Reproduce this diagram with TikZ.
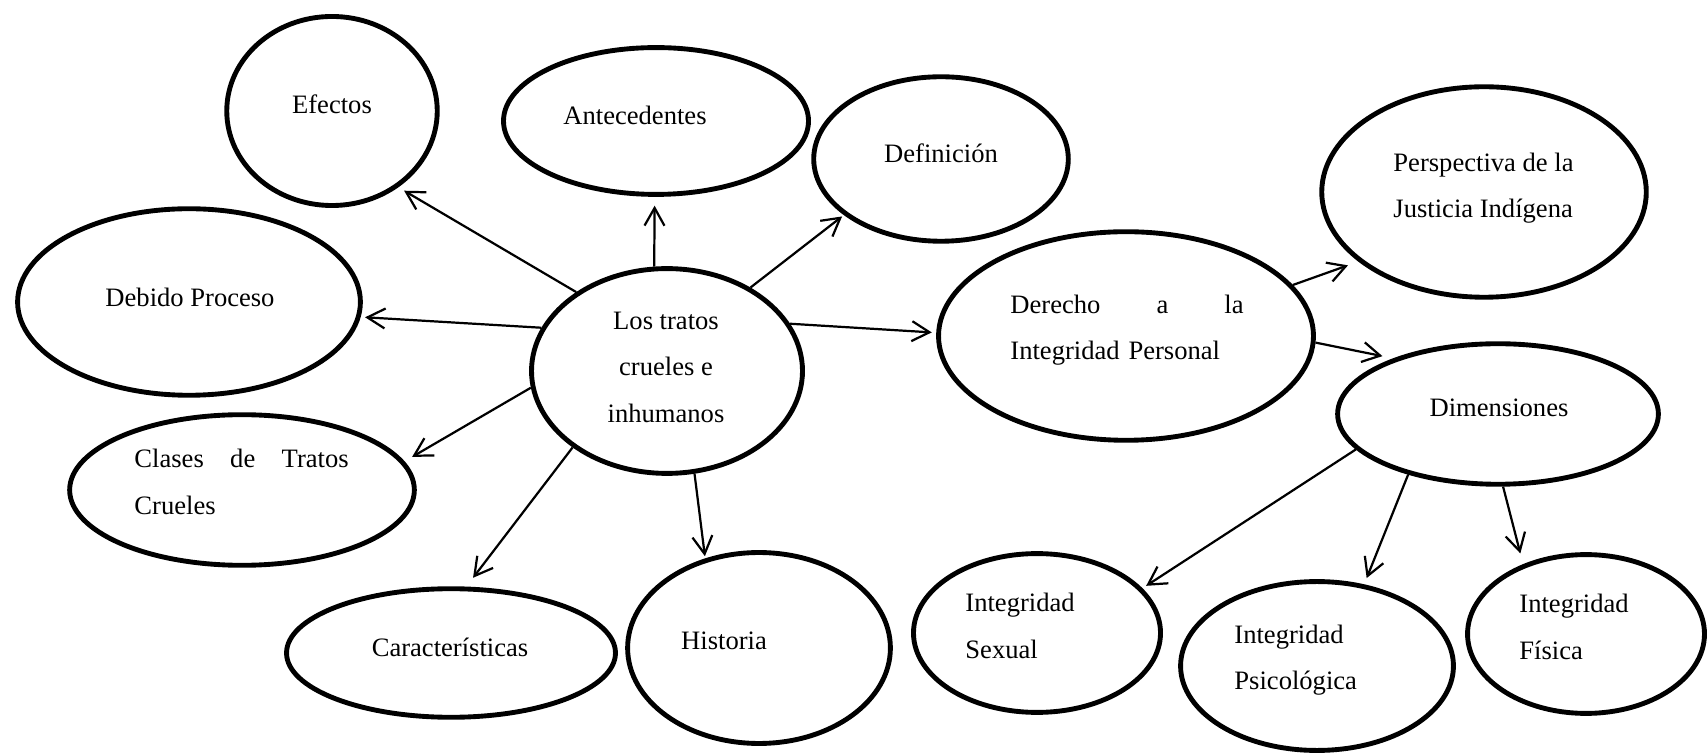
\documentclass[tikz,border=0pt]{standalone}
\usepackage{fontspec}
\setmainfont{Liberation Serif}
\usepackage{tikz}
\usetikzlibrary{shapes.geometric, arrows.meta}
\tikzstyle{bubble} = [ellipse, draw=black, line width=2.2pt, inner sep=0pt]
\tikzstyle{txt} = [inner sep=0pt, font=\fontsize{12}{21}\selectfont]
\tikzstyle{arrow} = [line width=1pt, -{Straight Barb[length=8pt, width=9pt]}]

\begin{document}
\begin{tikzpicture}[x=0.01587cm, y=-0.01587cm]
\useasboundingbox (0,0) rectangle (1707,754);

% Ellipses
\node (cen) [bubble, minimum width=4.30cm, minimum height=3.25cm] at (667,371) {};
\node (efe) [bubble, minimum width=3.34cm, minimum height=3.00cm] at (332,111) {};
\node (ant) [bubble, minimum width=4.84cm, minimum height=2.33cm] at (656,121) {};
\node (defi) [bubble, minimum width=4.04cm, minimum height=2.61cm] at (941,159) {};
\node (deb) [bubble, minimum width=5.44cm, minimum height=2.96cm] at (189,302) {};
\node (cla) [bubble, minimum width=5.47cm, minimum height=2.39cm] at (242,490) {};
\node (car) [bubble, minimum width=5.22cm, minimum height=2.04cm] at (451,653) {};
\node (hist) [bubble, minimum width=4.17cm, minimum height=3.03cm] at (759,648) {};
\node (der) [bubble, minimum width=5.95cm, minimum height=3.31cm] at (1126,336) {};
\node (pers) [bubble, minimum width=5.15cm, minimum height=3.34cm] at (1484,192) {};
\node (dim) [bubble, minimum width=5.09cm, minimum height=2.23cm] at (1498,414) {};
\node (sex) [bubble, minimum width=3.92cm, minimum height=2.52cm] at (1037,633) {};
\node (psi) [bubble, minimum width=4.33cm, minimum height=2.68cm] at (1317,666) {};
\node (fis) [bubble, minimum width=3.76cm, minimum height=2.52cm] at (1586,634) {};

% Texts
\node (cen-t) [txt, align=center] at (666,367) {Los tratos\\crueles e\\inhumanos};
\node (efe-t) [txt] at (332,104) {Efectos};
\node (ant-t) [txt] at (635,115) {Antecedentes};
\node (defi-t) [txt] at (941,153) {Definición};
\node (deb-t) [txt] at (190,297) {Debido Proceso};
\node (cla-t) [txt, anchor=west, text width=3.40cm, align=left] at (134,482) {Clases\hfill de\hfill Tratos\\Crueles};
\node (car-t) [txt] at (450,647) {Características};
\node (hist-t) [txt] at (724,641) {Historia};
\node (der-t) [txt, anchor=west, text width=3.70cm, align=left] at (1010,330) {Derecho\hfill a\hfill la\\Integridad Personal};
\node (pers-t) [txt, anchor=west, align=left] at (1393,188) {Perspectiva de la\\Justicia Indígena};
\node (dim-t) [txt] at (1499,408) {Dimensiones};
\node (sex-t) [txt, anchor=west, align=left] at (965,626) {Integridad\\Sexual};
\node (psi-t) [txt, anchor=west, align=left] at (1234,660) {Integridad\\Psicológica};
\node (fis-t) [txt, anchor=west, align=left] at (1519,627) {Integridad\\Física};

% Arrows
\draw [arrow, shorten >=3pt] (cen.139) -- (efe.-49);
\draw [arrow, shorten >=4pt] (cen.97) -- (ant.-91);
\draw [arrow, shorten >=1pt] (cen.45) -- (defi.210);
\draw [arrow, shorten >=2pt] (cen.161) -- (deb.-5);
\draw [arrow, shorten >=4pt] (cen.187) -- (cla.10);
\draw [arrow, shorten >=5pt] (cen.219) -- (car.77);
\draw [arrow, shorten >=1pt] (cen.-75) -- (hist.121);
\draw [arrow, shorten >=2pt] (cen.21) -- (der.179);
\draw [arrow, shorten >=5pt] (der.17) -- (pers.209);
\draw [arrow, shorten >=5pt] (der.-2) -- (dim.152);
\draw [arrow, shorten >=2pt] (dim.194) -- (sex.23);
\draw [arrow, shorten >=3pt] (dim.214) -- (psi.60);
\draw [arrow, shorten >=5pt] (dim.-86) -- (fis.132);
\end{tikzpicture}
\end{document}
